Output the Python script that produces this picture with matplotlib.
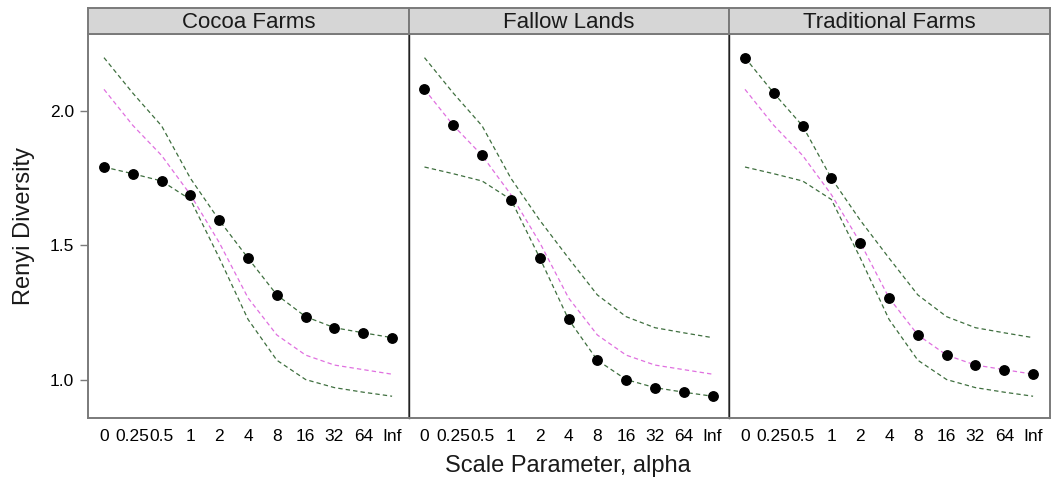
import numpy as np
import matplotlib
matplotlib.use("Agg")
import matplotlib.pyplot as plt

plt.rcParams['font.family'] = ['Liberation Sans', 'DejaVu Sans']

## data

alpha_labels = ["0", "0.25", "0.5", "1", "2", "4", "8", "16", "32", "64", "Inf"]
site_names = ["Cocoa Farms", "Fallow Lands", "Traditional Farms"]

cocoa = [1.792, 1.767, 1.740, 1.689, 1.594, 1.453, 1.316, 1.235, 1.194, 1.175, 1.157]
fallow = [2.081, 1.947, 1.835, 1.671, 1.454, 1.225, 1.073, 1.001, 0.971, 0.954, 0.939]
traditional = [2.199, 2.067, 1.945, 1.750, 1.511, 1.305, 1.167, 1.092, 1.055, 1.038, 1.021]

sites = [cocoa, fallow, traditional]

## envelope over all sites

allv = np.array(sites)
lo = allv.min(axis=0)
med = np.median(allv, axis=0)
hi = allv.max(axis=0)

x = np.arange(len(alpha_labels))

fig = plt.figure(figsize=(10.54, 4.84), dpi=100)

left, width = 88 / 1054, 320.5 / 1054
bottom, height = 1 - 418 / 484, 384 / 484
strip_h = 26 / 484

green = '#3f6f3f'
magenta = '#e070e0'
frame = '#7a7a7a'
dash = (3.5, 2.5)

for i, (name, vals) in enumerate(zip(site_names, sites)):
    ax = fig.add_axes([left + i * width, bottom, width, height])
    ax.plot(x, hi, color=green, lw=0.9, dashes=dash)
    ax.plot(x, lo, color=green, lw=0.9, dashes=dash)
    ax.plot(x, med, color=magenta, lw=0.9, dashes=dash)
    ax.plot(x, vals, ls='none', marker='o', ms=6.8, mfc='black', mec='black')
    ax.set_xlim(-0.555, 10.57)
    ax.set_ylim(0.858, 2.287)
    ax.set_xticks(x)
    ax.set_xticklabels(alpha_labels, fontsize=12.5)
    ax.tick_params(axis='x', length=0, pad=8)
    if i == 0:
        ax.set_yticks([1.0, 1.5, 2.0])
        ax.set_yticklabels(["1.0", "1.5", "2.0"], fontsize=12.5)
        ax.tick_params(axis='y', length=6, width=1, color=frame, pad=4)
    else:
        ax.set_yticks([])
    for s in ax.spines.values():
        s.set_color(frame)
        s.set_linewidth(1.4)
    if i > 0:
        ax.spines['left'].set_color('#222222')
        ax.spines['left'].set_linewidth(1.0)

    # strip on top
    st = fig.add_axes([left + i * width, bottom + height, width, strip_h])
    st.set_facecolor('#d6d6d6')
    st.set_xticks([])
    st.set_yticks([])
    for s in st.spines.values():
        s.set_color(frame)
        s.set_linewidth(1.4)
    st.text(0.5, 0.45, name, ha='center', va='center', fontsize=16,
            color='#1a1a1a', transform=st.transAxes)

fig.text(24 / 1054, 1 - 226 / 484, "Renyi Diversity", rotation=90,
         ha='center', va='center', fontsize=17, color='#1a1a1a')
fig.text(568 / 1054, 1 - 466 / 484, "Scale Parameter, alpha",
         ha='center', va='center', fontsize=17, color='#1a1a1a')

fig.savefig("out.png", dpi=100)
